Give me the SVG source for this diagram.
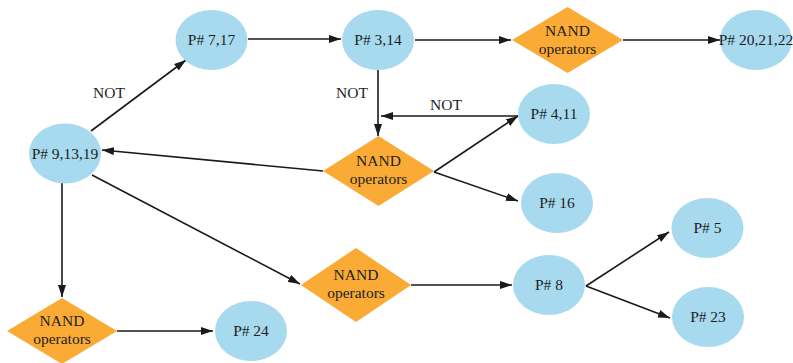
<svg xmlns="http://www.w3.org/2000/svg" width="793" height="363" viewBox="0 0 793 363">
<style>
.e{fill:#a7daee}
.d{fill:#f9ab35}
.t{font-family:"Liberation Serif","Times New Roman",serif;font-size:15.5px;fill:#1e1e1e;text-anchor:middle}
.n{font-family:"Liberation Serif","Times New Roman",serif;font-size:15.5px;fill:#1e1e1e;text-anchor:middle}
.c line{stroke:#1a1a1a;stroke-width:1.6;fill:none;marker-end:url(#a)}
</style>
<defs>
<marker id="a" viewBox="0 0 12 8" refX="12" refY="4" markerWidth="12" markerHeight="8" markerUnits="userSpaceOnUse" orient="auto">
<path d="M0,0 L12,4 L0,8 Z" fill="#1a1a1a"/>
</marker>
</defs>
<rect width="793" height="363" fill="#fff"/>
<g class="c" id="connectors">
<line x1="91" y1="131" x2="186" y2="60"/>
<line x1="248" y1="39" x2="341" y2="39"/>
<line x1="415" y1="40" x2="511" y2="40"/>
<line x1="623" y1="40" x2="720" y2="40"/>
<line x1="378" y1="70" x2="378" y2="136"/>
<line x1="518" y1="116" x2="381" y2="116"/>
<line x1="434" y1="172" x2="518" y2="116"/>
<line x1="434" y1="172" x2="518" y2="201"/>
<line x1="323" y1="171" x2="102" y2="150"/>
<line x1="62" y1="183" x2="62" y2="297"/>
<line x1="92" y1="175" x2="300" y2="284"/>
<line x1="117" y1="331" x2="213" y2="331"/>
<line x1="411" y1="285" x2="512" y2="285"/>
<line x1="586" y1="286" x2="669" y2="232"/>
<line x1="586" y1="286" x2="670" y2="318"/>
</g>
<g id="labels">
<text class="t" x="109" y="98">NOT</text>
<text class="t" x="352" y="98">NOT</text>
<text class="t" x="446" y="110">NOT</text>
</g>
<g id="p717"><ellipse class="e" cx="211.5" cy="40" rx="36" ry="30"/><text class="t" x="211.5" y="45">P# 7,17</text></g>
<g id="p314"><ellipse class="e" cx="378" cy="40" rx="36" ry="30"/><text class="t" x="378" y="45">P# 3,14</text></g>
<g id="nand1"><polygon class="d" points="512,40 567.5,7 623,40 567.5,73"/><text class="n" x="567.5" y="36">NAND</text><text class="n" x="567.5" y="54">operators</text></g>
<g id="p202122"><ellipse class="e" cx="756" cy="40" rx="36" ry="30"/><text class="t" x="756" y="45">P# 20,21,22</text></g>
<g id="p411"><ellipse class="e" cx="554" cy="114" rx="36" ry="30"/><text class="t" x="554" y="119">P# 4,11</text></g>
<g id="p91319"><ellipse class="e" cx="65" cy="153.5" rx="36" ry="30"/><text class="t" x="65" y="158.5">P# 9,13,19</text></g>
<g id="nand2"><polygon class="d" points="323,171 378.5,136 434,171 378.5,206"/><text class="n" x="378.5" y="166">NAND</text><text class="n" x="378.5" y="184">operators</text></g>
<g id="p16"><ellipse class="e" cx="557" cy="203" rx="36" ry="30"/><text class="t" x="557" y="208">P# 16</text></g>
<g id="p5"><ellipse class="e" cx="707.5" cy="228" rx="36" ry="30"/><text class="t" x="707.5" y="233">P# 5</text></g>
<g id="nand3"><polygon class="d" points="301,285 356,248 411,285 356,322"/><text class="n" x="356" y="280">NAND</text><text class="n" x="356" y="298">operators</text></g>
<g id="p8"><ellipse class="e" cx="549" cy="285" rx="36" ry="30"/><text class="t" x="549" y="290">P# 8</text></g>
<g id="p23"><ellipse class="e" cx="708" cy="317" rx="36" ry="30"/><text class="t" x="708" y="322">P# 23</text></g>
<g id="nand4"><polygon class="d" points="7,331 62,298 117,331 62,364"/><text class="n" x="62" y="326">NAND</text><text class="n" x="62" y="344">operators</text></g>
<g id="p24"><ellipse class="e" cx="251" cy="331" rx="36" ry="30"/><text class="t" x="251" y="336">P# 24</text></g>
</svg>
